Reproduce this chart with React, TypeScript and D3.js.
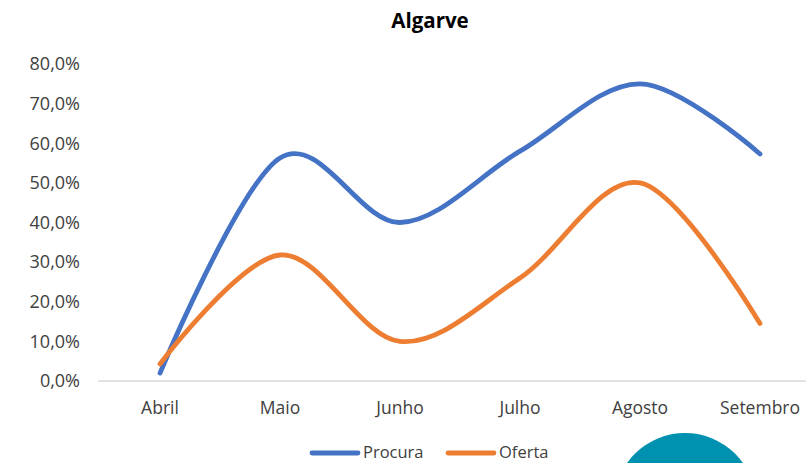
import React from "react";
import * as d3 from "d3";

const categories = ["Abril", "Maio", "Junho", "Julho", "Agosto", "Setembro"];
const procura = [0.02, 0.563, 0.40, 0.58, 0.75, 0.573];
const oferta = [0.043, 0.318, 0.10, 0.26, 0.50, 0.145];
const yTicks = [0, 0.1, 0.2, 0.3, 0.4, 0.5, 0.6, 0.7, 0.8];
const seriesNames = ["Procura", "Oferta"];
const colors = ["#4472C4", "#ED7D31"];

const W = 806;
const H = 463;
const FONT = "'Open Sans', 'Noto Sans', sans-serif";

export default function App() {
  const x = d3.scaleBand<string>().domain(categories).range([100, 820]);
  const y = d3.scaleLinear().domain([0, 0.8]).range([381, 64]);
  const line = d3
    .line<number>()
    .x((_, i) => (x(categories[i]) as number) + x.bandwidth() / 2)
    .y((d) => y(d))
    .curve(d3.curveCardinal.tension(0));
  const fmt = (v: number) => (v * 100).toFixed(1).replace(".", ",") + "%";
  const series = [procura, oferta];
  const legendX = [310, 446];

  return (
    <svg
      width={W}
      height={H}
      style={{ position: "fixed", left: 0, top: 0, background: "#fff" }}
      fontFamily={FONT}
    >
      <rect width={W} height={H} fill="#fff" />
      <text x={430} y={28} textAnchor="middle" fontWeight="bold" fontSize={20.5} fill="#000">
        Algarve
      </text>
      {yTicks.map((t) => (
        <text key={t} x={80} y={y(t)} dy="0.35em" textAnchor="end" fontSize={18} fill="#404040">
          {fmt(t)}
        </text>
      ))}
      <line x1={98} x2={W} y1={y(0)} y2={y(0)} stroke="#d9d9d9" strokeWidth={1.3} />
      {categories.map((c) => (
        <text
          key={c}
          x={(x(c) as number) + x.bandwidth() / 2}
          y={408}
          dy="0.35em"
          textAnchor="middle"
          fontSize={17.5}
          fill="#404040"
        >
          {c}
        </text>
      ))}
      {series.map((s, i) => (
        <path
          key={i}
          d={line(s) as string}
          fill="none"
          stroke={colors[i]}
          strokeWidth={4.8}
          strokeLinecap="round"
          strokeLinejoin="round"
        />
      ))}
      {seriesNames.map((n, i) => (
        <g key={n}>
          <line
            x1={legendX[i] + 2}
            x2={legendX[i] + 48}
            y1={453}
            y2={453}
            stroke={colors[i]}
            strokeWidth={4.8}
            strokeLinecap="round"
          />
          <text x={legendX[i] + 53} y={453} dy="0.33em" fontSize={16.5} fill="#404040">
            {n}
          </text>
        </g>
      ))}
      <circle cx={685} cy={504} r={71} fill="#0091B0" />
    </svg>
  );
}
